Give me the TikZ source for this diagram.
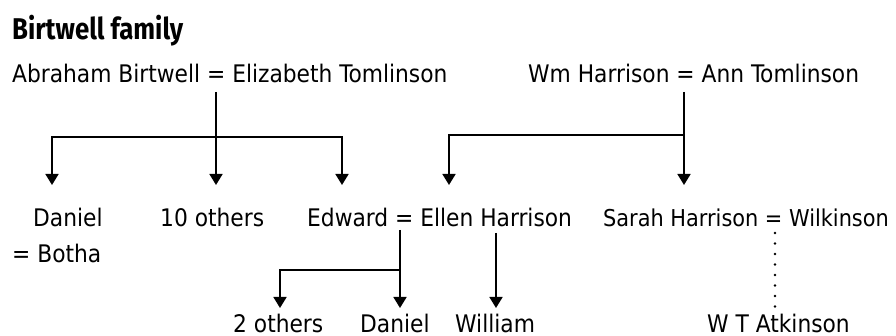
\documentclass[tikz,border=0pt]{standalone}
\usepackage{fontspec}
\setmainfont{DejaVu Sans Condensed}
\newfontfamily\titlefont{Fira Sans}
\usetikzlibrary{arrows.meta}

\begin{document}
\begin{tikzpicture}[x=1pt,y=-1pt,
		person/.style={anchor=base west,inner sep=0pt,font=\fontsize{24.2}{28}\selectfont},
		link/.style={line width=1.7pt,->,>={Triangle[width=13pt,length=11pt]}},
		descent/.style={line width=2.8pt,line cap=round,dash pattern=on 0pt off 10.5pt}]
	\useasboundingbox (0,0) rectangle (896,336);
	% heading
	\node[anchor=base west,inner sep=0pt,font=\titlefont\bfseries\fontsize{30}{34}\selectfont] (title) at (12,40) {\scalebox{0.86}[1]{Birtwell family}};
	% parents
	\node[person] (abraham) at (12,83) {Abraham Birtwell = Elizabeth Tomlinson};
	\node[person] (wm) at (528,83) {Wm Harrison = Ann Tomlinson};
	% children
	\node[person] (daniel) at (33,227) {Daniel};
	\node[person] (botha) at (12,263) {= Botha};
	\node[person] (others10) at (160,227) {10 others};
	\node[person] (edward) at (307,227) {Edward = Ellen Harrison};
	\node[person,font=\fontsize{23.2}{28}\selectfont] (sarah) at (603,227) {Sarah Harrison = Wilkinson};
	% grandchildren
	\node[person] (others2) at (233,332) {2 others};
	\node[person] (daniel2) at (360,332) {Daniel};
	\node[person] (william) at (455,332) {William};
	\node[person] (atkinson) at (707,332) {W T Atkinson};
	% junctions and arrow ends
	\coordinate (jab) at (216,137);
	\coordinate (jwm) at (684,135);
	\coordinate (jed) at (400,270);
	\coordinate (tdaniel) at (52,185);
	\coordinate (tothers10) at (216,185);
	\coordinate (tedward) at (342,185);
	\coordinate (tellen) at (449,185);
	\coordinate (tsarah) at (684,185);
	\coordinate (tothers2) at (280,308);
	\coordinate (tdaniel2) at (400,308);
	\coordinate (twilliam) at (496,308);
	\coordinate (tatkinson) at (775,307);
	% Birtwell line
	\draw[link] ([yshift=-9pt]abraham.base -| jab) -- (tothers10);
	\draw[link] (jab) -| (tdaniel);
	\draw[link] (jab) -| (tedward);
	% Harrison line
	\draw[link] ([yshift=-9pt]wm.base -| jwm) -- (tsarah);
	\draw[link] (jwm) -| (tellen);
	% Edward's children
	\draw[link] ([yshift=-3pt]edward.base -| jed) -- (tdaniel2);
	\draw[link] (jed) -| (tothers2);
	\draw[link] ([yshift=-6pt]edward.base -| twilliam) -- (twilliam);
	% to Atkinson
	\draw[descent] ([yshift=-6pt]sarah.base -| tatkinson) -- (tatkinson);
\end{tikzpicture}
\end{document}
